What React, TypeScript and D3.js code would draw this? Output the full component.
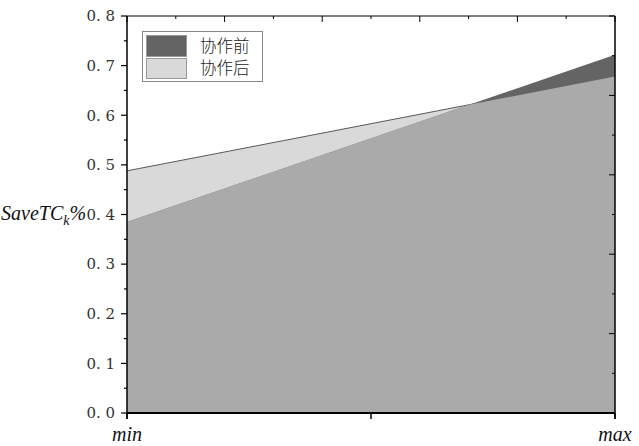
import React from "react";
import * as d3 from "d3";

const xDomain = [0, 1];
const xTickValues = [0, 0.5, 1];
const xTickLabels = ["min", "", "max"];
const seriesNames = ["协作前", "协作后"];
const beforeValues = [0.385, 0.722];
const afterValues = [0.488, 0.678];
const yTicks = [0, 0.1, 0.2, 0.3, 0.4, 0.5, 0.6, 0.7, 0.8];
const yMinorTicks = [0.05, 0.15, 0.25, 0.35, 0.45, 0.55, 0.65, 0.75];
const oppTicks = d3.range(0, 11).map((i) => i / 10);

const W = 639, H = 446;
const M = { left: 127, right: 615, top: 16, bottom: 413 };
const DARK = "#646464", LIGHT = "#d9d9d9", MID = "#aaaaaa";
const SERIF = "'DejaVu Serif', serif";
const TIMES = "'Liberation Serif', 'Times New Roman', Times, serif";
const CJK = "Noto Sans CJK SC, sans-serif";

export default function App() {
  const x = d3.scaleLinear().domain(xDomain).range([M.left, M.right]);
  const y = d3.scaleLinear().domain([0, 0.8]).range([M.bottom, M.top]);
  const xPos = [0, 1];
  type P = { t: number; v: number };
  const a: P[] = xPos.map((t, i) => ({ t, v: beforeValues[i] }));
  const b: P[] = xPos.map((t, i) => ({ t, v: afterValues[i] }));
  const d0 = beforeValues[0] - afterValues[0];
  const d1 = beforeValues[1] - afterValues[1];
  const tc = d0 / (d0 - d1);
  const vc = beforeValues[0] + (beforeValues[1] - beforeValues[0]) * tc;
  const minPts: P[] = [
    { t: 0, v: Math.min(beforeValues[0], afterValues[0]) },
    { t: tc, v: vc },
    { t: 1, v: Math.min(beforeValues[1], afterValues[1]) },
  ];
  const area = d3.area<P>().x((d) => x(d.t)).y0(y(0)).y1((d) => y(d.v));
  const line = d3.line<P>().x((d) => x(d.t)).y((d) => y(d.v));
  const opY = d3.scaleLinear().domain([0, 1]).range([M.top, M.bottom]);
  const serif = { fontFamily: SERIF };
  const serifI = { fontFamily: TIMES, fontStyle: "italic" as const };
  const cjk = { fontFamily: CJK, fontWeight: 300 };

  return (
    <svg width={W} height={H} style={{ position: "absolute", left: 0, top: 0, background: "#fff" }}>
      <path d={area(b)!} fill={LIGHT} />
      <path d={line(b)!} fill="none" stroke="#333" strokeWidth={0.8} />
      <path d={area(a)!} fill={DARK} />
      <path d={area(minPts)!} fill={MID} />

      <line x1={M.left} x2={M.right} y1={M.top} y2={M.top} stroke="#000" strokeWidth={1.2} />
      {oppTicks.map((t, i) => (
        <line key={"tt" + i} x1={x(t)} x2={x(t)} y1={M.top} y2={M.top + (i % 2 === 0 ? 6 : 3)} stroke="#000" strokeWidth={1} />
      ))}
      <line x1={M.right} x2={M.right} y1={M.top} y2={M.bottom + 6} stroke="#000" strokeWidth={1.5} />
      {oppTicks.map((t, i) => (
        <line key={"rt" + i} x1={M.right} x2={M.right - (i % 2 === 0 ? 6 : 3)} y1={opY(t)} y2={opY(t)} stroke="#000" strokeWidth={1} />
      ))}
      <line x1={M.left} x2={M.left} y1={M.top} y2={M.bottom + 6} stroke="#000" strokeWidth={1.5} />
      {yTicks.map((t) => (
        <g key={"yt" + t}>
          <line x1={M.left - 6} x2={M.left} y1={y(t)} y2={y(t)} stroke="#000" strokeWidth={1.2} />
          <text x={M.left - 12} y={y(t)} dy="0.35em" textAnchor="end" style={serif} fontSize={15} fontWeight={300} fill="#333">
            {d3.format(".1f")(t).replace(".", ". ")}
          </text>
        </g>
      ))}
      {yMinorTicks.map((t) => (
        <line key={"ym" + t} x1={M.left - 3} x2={M.left} y1={y(t)} y2={y(t)} stroke="#000" strokeWidth={1.2} />
      ))}
      <line x1={M.left} x2={M.right} y1={M.bottom} y2={M.bottom} stroke="#000" strokeWidth={2} />
      {xTickValues.map((t, i) => (
        <g key={"xt" + i}>
          <line x1={x(t)} x2={x(t)} y1={M.bottom} y2={M.bottom + 6} stroke="#000" strokeWidth={1.5} />
          <text x={x(t)} y={M.bottom + 28} textAnchor="middle" style={serifI} fontSize={20} fill="#111">
            {xTickLabels[i]}
          </text>
        </g>
      ))}
      <text x={1} y={220} style={serifI} fontSize={20} fill="#111">
        SaveTC<tspan fontSize={14} dy={5}>k</tspan><tspan dy={-5}>%</tspan>
      </text>
      <g>
        <rect x={142.5} y={31.5} width={120} height={50} fill="#fff" stroke="#888" strokeWidth={1} />
        <rect x={146.5} y={35.5} width={40} height={21} fill={DARK} stroke="#999" strokeWidth={1} />
        <rect x={146.5} y={58.5} width={40} height={20} fill={LIGHT} stroke="#999" strokeWidth={1} />
        <text x={200} y={46} dy="0.36em" style={cjk} fontSize={16.5} fill="#222">{seriesNames[0]}</text>
        <text x={200} y={68} dy="0.36em" style={cjk} fontSize={16.5} fill="#222">{seriesNames[1]}</text>
      </g>
    </svg>
  );
}
